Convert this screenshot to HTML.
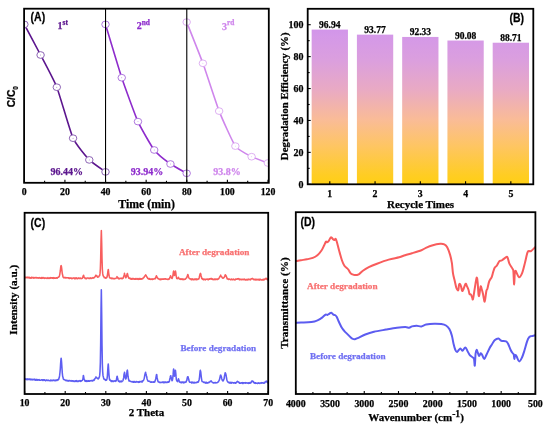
<!DOCTYPE html><html><head><meta charset="utf-8"><style>html,body{margin:0;padding:0;background:#fff;width:550px;height:427px;overflow:hidden}svg{display:block;will-change:transform}</style></head><body>
<svg width="550" height="427" viewBox="0 0 550 427">
<rect width="550" height="427" fill="#fff"/>
<defs><clipPath id="cA"><rect x="24.1" y="8.7" width="244.70000000000002" height="174.10000000000002"/></clipPath></defs>
<g clip-path="url(#cA)">
<path d="M24.35 24.4 C25.7 26.95 37.88 49.77 40.58 55 C43.29 60.23 54.11 80.27 56.81 87.2 C59.52 94.13 70.34 132.14 73.05 138.2 C75.75 144.26 86.57 157.09 89.28 159.9 C91.98 162.71 104.16 170.9 105.51 171.9" fill="none" stroke="#5c168e" stroke-width="1.6"/>
<ellipse cx="24.35" cy="24.4" rx="3.75" ry="3.35" fill="#fff" stroke="#7a4aa8" stroke-width="0.85"/>
<circle cx="24.35" cy="24.4" r="0.45" fill="#7a4aa8"/>
<ellipse cx="40.58" cy="55" rx="3.75" ry="3.35" fill="#fff" stroke="#7a4aa8" stroke-width="0.85"/>
<circle cx="40.58" cy="55" r="0.45" fill="#7a4aa8"/>
<ellipse cx="56.81" cy="87.2" rx="3.75" ry="3.35" fill="#fff" stroke="#7a4aa8" stroke-width="0.85"/>
<circle cx="56.81" cy="87.2" r="0.45" fill="#7a4aa8"/>
<ellipse cx="73.05" cy="138.2" rx="3.75" ry="3.35" fill="#fff" stroke="#7a4aa8" stroke-width="0.85"/>
<circle cx="73.05" cy="138.2" r="0.45" fill="#7a4aa8"/>
<ellipse cx="89.28" cy="159.9" rx="3.75" ry="3.35" fill="#fff" stroke="#7a4aa8" stroke-width="0.85"/>
<circle cx="89.28" cy="159.9" r="0.45" fill="#7a4aa8"/>
<ellipse cx="105.51" cy="171.9" rx="3.75" ry="3.35" fill="#fff" stroke="#7a4aa8" stroke-width="0.85"/>
<circle cx="105.51" cy="171.9" r="0.45" fill="#7a4aa8"/>
<path d="M105.51 24.4 C106.86 28.84 119.04 69.6 121.74 77.7 C124.45 85.8 135.27 115.57 137.97 121.6 C140.68 127.62 151.5 146.47 154.21 150 C156.91 153.53 167.73 162.06 170.44 164 C173.14 165.94 185.32 172.53 186.67 173.3" fill="none" stroke="#8e2ccc" stroke-width="1.6"/>
<ellipse cx="105.51" cy="24.4" rx="3.75" ry="3.35" fill="#fff" stroke="#a060d8" stroke-width="0.85"/>
<circle cx="105.51" cy="24.4" r="0.45" fill="#a060d8"/>
<ellipse cx="121.74" cy="77.7" rx="3.75" ry="3.35" fill="#fff" stroke="#a060d8" stroke-width="0.85"/>
<circle cx="121.74" cy="77.7" r="0.45" fill="#a060d8"/>
<ellipse cx="137.97" cy="121.6" rx="3.75" ry="3.35" fill="#fff" stroke="#a060d8" stroke-width="0.85"/>
<circle cx="137.97" cy="121.6" r="0.45" fill="#a060d8"/>
<ellipse cx="154.21" cy="150" rx="3.75" ry="3.35" fill="#fff" stroke="#a060d8" stroke-width="0.85"/>
<circle cx="154.21" cy="150" r="0.45" fill="#a060d8"/>
<ellipse cx="170.44" cy="164" rx="3.75" ry="3.35" fill="#fff" stroke="#a060d8" stroke-width="0.85"/>
<circle cx="170.44" cy="164" r="0.45" fill="#a060d8"/>
<ellipse cx="186.67" cy="173.3" rx="3.75" ry="3.35" fill="#fff" stroke="#a060d8" stroke-width="0.85"/>
<circle cx="186.67" cy="173.3" r="0.45" fill="#a060d8"/>
<path d="M186.67 22.1 C188.02 25.53 200.2 55.88 202.9 63.3 C205.61 70.72 216.43 104.2 219.13 111.1 C221.84 118 232.66 142.3 235.37 146.1 C238.07 149.9 248.89 155.29 251.6 156.7 C254.3 158.11 266.48 162.47 267.83 163" fill="none" stroke="#cf86ec" stroke-width="1.6"/>
<ellipse cx="186.67" cy="22.1" rx="3.75" ry="3.35" fill="#fff" stroke="#d8a2f0" stroke-width="0.85"/>
<circle cx="186.67" cy="22.1" r="0.45" fill="#d8a2f0"/>
<ellipse cx="202.9" cy="63.3" rx="3.75" ry="3.35" fill="#fff" stroke="#d8a2f0" stroke-width="0.85"/>
<circle cx="202.9" cy="63.3" r="0.45" fill="#d8a2f0"/>
<ellipse cx="219.13" cy="111.1" rx="3.75" ry="3.35" fill="#fff" stroke="#d8a2f0" stroke-width="0.85"/>
<circle cx="219.13" cy="111.1" r="0.45" fill="#d8a2f0"/>
<ellipse cx="235.37" cy="146.1" rx="3.75" ry="3.35" fill="#fff" stroke="#d8a2f0" stroke-width="0.85"/>
<circle cx="235.37" cy="146.1" r="0.45" fill="#d8a2f0"/>
<ellipse cx="251.6" cy="156.7" rx="3.75" ry="3.35" fill="#fff" stroke="#d8a2f0" stroke-width="0.85"/>
<circle cx="251.6" cy="156.7" r="0.45" fill="#d8a2f0"/>
<ellipse cx="267.83" cy="163" rx="3.75" ry="3.35" fill="#fff" stroke="#d8a2f0" stroke-width="0.85"/>
<circle cx="267.83" cy="163" r="0.45" fill="#d8a2f0"/>
</g>
<line x1="105.54" y1="8.7" x2="105.54" y2="182.8" stroke="#000" stroke-width="1.1"/>
<line x1="186.78" y1="8.7" x2="186.78" y2="182.8" stroke="#000" stroke-width="1.1"/>
<line x1="24.3" y1="182.8" x2="24.3" y2="179.8" stroke="#000" stroke-width="1.1"/>
<line x1="44.61" y1="182.8" x2="44.61" y2="180.8" stroke="#000" stroke-width="1.1"/>
<line x1="64.92" y1="182.8" x2="64.92" y2="179.8" stroke="#000" stroke-width="1.1"/>
<line x1="85.23" y1="182.8" x2="85.23" y2="180.8" stroke="#000" stroke-width="1.1"/>
<line x1="105.54" y1="182.8" x2="105.54" y2="179.8" stroke="#000" stroke-width="1.1"/>
<line x1="125.85" y1="182.8" x2="125.85" y2="180.8" stroke="#000" stroke-width="1.1"/>
<line x1="146.16" y1="182.8" x2="146.16" y2="179.8" stroke="#000" stroke-width="1.1"/>
<line x1="166.47" y1="182.8" x2="166.47" y2="180.8" stroke="#000" stroke-width="1.1"/>
<line x1="186.78" y1="182.8" x2="186.78" y2="179.8" stroke="#000" stroke-width="1.1"/>
<line x1="207.09" y1="182.8" x2="207.09" y2="180.8" stroke="#000" stroke-width="1.1"/>
<line x1="227.4" y1="182.8" x2="227.4" y2="179.8" stroke="#000" stroke-width="1.1"/>
<line x1="247.71" y1="182.8" x2="247.71" y2="180.8" stroke="#000" stroke-width="1.1"/>
<line x1="268.02" y1="182.8" x2="268.02" y2="179.8" stroke="#000" stroke-width="1.1"/>
<rect x="24.1" y="8.7" width="244.7" height="174.1" fill="none" stroke="#000" stroke-width="1.8"/>
<text x="24.3" y="195.2" font-family='"Liberation Serif", serif' font-size="9.8" font-weight="bold" text-anchor="middle" fill="#000" stroke="#000" stroke-width="0.25" >0</text>
<text x="64.92" y="195.2" font-family='"Liberation Serif", serif' font-size="9.8" font-weight="bold" text-anchor="middle" fill="#000" stroke="#000" stroke-width="0.25" >20</text>
<text x="105.54" y="195.2" font-family='"Liberation Serif", serif' font-size="9.8" font-weight="bold" text-anchor="middle" fill="#000" stroke="#000" stroke-width="0.25" >40</text>
<text x="146.16" y="195.2" font-family='"Liberation Serif", serif' font-size="9.8" font-weight="bold" text-anchor="middle" fill="#000" stroke="#000" stroke-width="0.25" >60</text>
<text x="186.78" y="195.2" font-family='"Liberation Serif", serif' font-size="9.8" font-weight="bold" text-anchor="middle" fill="#000" stroke="#000" stroke-width="0.25" >80</text>
<text x="227.4" y="195.2" font-family='"Liberation Serif", serif' font-size="9.8" font-weight="bold" text-anchor="middle" fill="#000" stroke="#000" stroke-width="0.25" >100</text>
<text x="268.02" y="195.2" font-family='"Liberation Serif", serif' font-size="9.8" font-weight="bold" text-anchor="middle" fill="#000" stroke="#000" stroke-width="0.25" >120</text>
<text x="146.6" y="208" font-family='"Liberation Serif", serif' font-size="11.8" font-weight="bold" text-anchor="middle" fill="#000" stroke="#000" stroke-width="0.25" >Time (min)</text>
<text transform="translate(15.0 107.3) rotate(-90) scale(0.9 1)" font-family='"Liberation Sans", sans-serif' font-size="11.4" font-weight="bold" fill="#000" stroke="#000" stroke-width="0.25">C/C<tspan font-size="7" dy="3.3">0</tspan></text>
<text transform="translate(30.6 21) scale(0.86 1)" font-family='"Liberation Sans", sans-serif' font-size="12.2" font-weight="bold" fill="#000" stroke="#000" stroke-width="0.25">(A)</text>
<text x="66.7" y="175.3" font-family='"Liberation Serif", serif' font-size="10" font-weight="bold" text-anchor="middle" fill="#5c168e" stroke="#5c168e" stroke-width="0.25" >96.44%</text>
<text x="146.9" y="175.3" font-family='"Liberation Serif", serif' font-size="10" font-weight="bold" text-anchor="middle" fill="#8e2ccc" stroke="#8e2ccc" stroke-width="0.25" >93.94%</text>
<text x="227" y="175.3" font-family='"Liberation Serif", serif' font-size="10" font-weight="bold" text-anchor="middle" fill="#cf86ec" stroke="#cf86ec" stroke-width="0.25" >93.8%</text>
<text x="57.6" y="29.4" font-family='"Liberation Serif", serif' font-size="10" font-weight="bold" fill="#5c168e" stroke="#5c168e" stroke-width="0.25">1<tspan font-size="7.4" dy="-4.3">st</tspan></text>
<text x="136.7" y="29.4" font-family='"Liberation Serif", serif' font-size="10" font-weight="bold" fill="#8e2ccc" stroke="#8e2ccc" stroke-width="0.25">2<tspan font-size="7.4" dy="-4.3">nd</tspan></text>
<text x="222.0" y="29.5" font-family='"Liberation Serif", serif' font-size="10" font-weight="bold" fill="#cf86ec" stroke="#cf86ec" stroke-width="0.25">3<tspan font-size="7.4" dy="-4.3">rd</tspan></text>
<defs><linearGradient id="gB" gradientUnits="userSpaceOnUse" x1="0" y1="24.7" x2="0" y2="184.3">
<stop offset="0.0" stop-color="#d092ea"/>
<stop offset="0.068" stop-color="#d498e8"/>
<stop offset="0.224" stop-color="#db9fde"/>
<stop offset="0.411" stop-color="#e9aac3"/>
<stop offset="0.599" stop-color="#fabc96"/>
<stop offset="0.755" stop-color="#fec564"/>
<stop offset="0.943" stop-color="#ffcd23"/>
<stop offset="1.0" stop-color="#ffcf14"/>
</linearGradient></defs>
<rect x="311.65" y="29.58" width="36.3" height="154.72" fill="url(#gB)"/>
<text x="329.8" y="27.68" font-family='"Liberation Serif", serif' font-size="9.5" font-weight="bold" text-anchor="middle" fill="#000" stroke="#000" stroke-width="0.25" >96.94</text>
<line x1="329.8" y1="184.3" x2="329.8" y2="181.3" stroke="#000" stroke-width="1.1"/>
<rect x="356.91" y="34.64" width="36.3" height="149.66" fill="url(#gB)"/>
<text x="375.06" y="32.74" font-family='"Liberation Serif", serif' font-size="9.5" font-weight="bold" text-anchor="middle" fill="#000" stroke="#000" stroke-width="0.25" >93.77</text>
<line x1="375.06" y1="184.3" x2="375.06" y2="181.3" stroke="#000" stroke-width="1.1"/>
<rect x="402.17" y="36.94" width="36.3" height="147.36" fill="url(#gB)"/>
<text x="420.32" y="35.04" font-family='"Liberation Serif", serif' font-size="9.5" font-weight="bold" text-anchor="middle" fill="#000" stroke="#000" stroke-width="0.25" >92.33</text>
<line x1="420.32" y1="184.3" x2="420.32" y2="181.3" stroke="#000" stroke-width="1.1"/>
<rect x="447.43" y="40.53" width="36.3" height="143.77" fill="url(#gB)"/>
<text x="465.58" y="38.63" font-family='"Liberation Serif", serif' font-size="9.5" font-weight="bold" text-anchor="middle" fill="#000" stroke="#000" stroke-width="0.25" >90.08</text>
<line x1="465.58" y1="184.3" x2="465.58" y2="181.3" stroke="#000" stroke-width="1.1"/>
<rect x="492.69" y="42.72" width="36.3" height="141.58" fill="url(#gB)"/>
<text x="510.84" y="40.82" font-family='"Liberation Serif", serif' font-size="9.5" font-weight="bold" text-anchor="middle" fill="#000" stroke="#000" stroke-width="0.25" >88.71</text>
<line x1="510.84" y1="184.3" x2="510.84" y2="181.3" stroke="#000" stroke-width="1.1"/>
<line x1="307.7" y1="184.3" x2="310.7" y2="184.3" stroke="#000" stroke-width="1.1"/>
<text x="303.5" y="187.7" font-family='"Liberation Serif", serif' font-size="10" font-weight="bold" text-anchor="end" fill="#000" stroke="#000" stroke-width="0.25" >0</text>
<line x1="307.7" y1="168.34" x2="309.7" y2="168.34" stroke="#000" stroke-width="1.1"/>
<line x1="307.7" y1="152.38" x2="310.7" y2="152.38" stroke="#000" stroke-width="1.1"/>
<text x="303.5" y="155.78" font-family='"Liberation Serif", serif' font-size="10" font-weight="bold" text-anchor="end" fill="#000" stroke="#000" stroke-width="0.25" >20</text>
<line x1="307.7" y1="136.42" x2="309.7" y2="136.42" stroke="#000" stroke-width="1.1"/>
<line x1="307.7" y1="120.46" x2="310.7" y2="120.46" stroke="#000" stroke-width="1.1"/>
<text x="303.5" y="123.86" font-family='"Liberation Serif", serif' font-size="10" font-weight="bold" text-anchor="end" fill="#000" stroke="#000" stroke-width="0.25" >40</text>
<line x1="307.7" y1="104.5" x2="309.7" y2="104.5" stroke="#000" stroke-width="1.1"/>
<line x1="307.7" y1="88.54" x2="310.7" y2="88.54" stroke="#000" stroke-width="1.1"/>
<text x="303.5" y="91.94" font-family='"Liberation Serif", serif' font-size="10" font-weight="bold" text-anchor="end" fill="#000" stroke="#000" stroke-width="0.25" >60</text>
<line x1="307.7" y1="72.58" x2="309.7" y2="72.58" stroke="#000" stroke-width="1.1"/>
<line x1="307.7" y1="56.62" x2="310.7" y2="56.62" stroke="#000" stroke-width="1.1"/>
<text x="303.5" y="60.02" font-family='"Liberation Serif", serif' font-size="10" font-weight="bold" text-anchor="end" fill="#000" stroke="#000" stroke-width="0.25" >80</text>
<line x1="307.7" y1="40.66" x2="309.7" y2="40.66" stroke="#000" stroke-width="1.1"/>
<line x1="307.7" y1="24.7" x2="310.7" y2="24.7" stroke="#000" stroke-width="1.1"/>
<text x="303.5" y="28.1" font-family='"Liberation Serif", serif' font-size="10" font-weight="bold" text-anchor="end" fill="#000" stroke="#000" stroke-width="0.25" >100</text>
<rect x="307.7" y="8.8" width="225.6" height="175.5" fill="none" stroke="#000" stroke-width="1.8"/>
<text x="329.8" y="196.6" font-family='"Liberation Serif", serif' font-size="9.8" font-weight="bold" text-anchor="middle" fill="#000" stroke="#000" stroke-width="0.25" >1</text>
<text x="375.06" y="196.6" font-family='"Liberation Serif", serif' font-size="9.8" font-weight="bold" text-anchor="middle" fill="#000" stroke="#000" stroke-width="0.25" >2</text>
<text x="420.32" y="196.6" font-family='"Liberation Serif", serif' font-size="9.8" font-weight="bold" text-anchor="middle" fill="#000" stroke="#000" stroke-width="0.25" >3</text>
<text x="465.58" y="196.6" font-family='"Liberation Serif", serif' font-size="9.8" font-weight="bold" text-anchor="middle" fill="#000" stroke="#000" stroke-width="0.25" >4</text>
<text x="510.84" y="196.6" font-family='"Liberation Serif", serif' font-size="9.8" font-weight="bold" text-anchor="middle" fill="#000" stroke="#000" stroke-width="0.25" >5</text>
<text x="420.6" y="208" font-family='"Liberation Serif", serif' font-size="11" font-weight="bold" text-anchor="middle" fill="#000" stroke="#000" stroke-width="0.25" >Recycle Times</text>
<text transform="translate(287.6 96.3) rotate(-90)" font-family='"Liberation Serif", serif' font-size="10.85" font-weight="bold" text-anchor="middle" fill="#000" stroke="#000" stroke-width="0.25">Degradation Efficiency (%)</text>
<text transform="translate(509.5 22) scale(0.86 1)" font-family='"Liberation Sans", sans-serif' font-size="12.2" font-weight="bold" fill="#000" stroke="#000" stroke-width="0.25">(B)</text>
<path d="M24.6 277.43 L24.93 277.28 L25.27 277.74 L25.6 277.23 L25.93 277.65 L26.27 277.5 L26.6 277.23 L26.94 277.65 L27.27 277.23 L27.6 277.59 L27.94 277.27 L28.27 277.3 L28.6 277.6 L28.94 277.97 L29.27 277.35 L29.61 277.44 L29.94 277.81 L30.27 278.11 L30.61 277.78 L30.94 277.63 L31.27 278.15 L31.61 277.32 L31.94 278.06 L32.28 277.56 L32.61 277.43 L32.94 277.41 L33.28 277.59 L33.61 278.06 L33.94 277.49 L34.28 277.86 L34.61 277.92 L34.94 277.68 L35.28 277.85 L35.61 277.42 L35.95 277.42 L36.28 277.56 L36.61 277.99 L36.95 277.77 L37.28 277.68 L37.61 277.93 L37.95 277.81 L38.28 277.68 L38.62 278.13 L38.95 278.06 L39.28 277.65 L39.62 277.96 L39.95 277.92 L40.28 278.24 L40.62 278.11 L40.95 277.72 L41.28 278.35 L41.62 277.58 L41.95 277.86 L42.29 278.17 L42.62 277.63 L42.95 277.94 L43.29 277.54 L43.62 278.11 L43.95 278.21 L44.29 278.04 L44.62 278.32 L44.96 277.82 L45.29 278.17 L45.62 278.08 L45.96 278.08 L46.29 277.97 L46.62 278.32 L46.96 278.42 L47.29 278 L47.63 278.18 L47.96 277.64 L48.29 278.22 L48.63 278.18 L48.96 278.49 L49.29 278.34 L49.63 277.86 L49.96 277.95 L50.29 278.21 L50.63 277.62 L50.96 278.02 L51.3 277.76 L51.63 277.71 L51.96 277.66 L52.3 278.29 L52.63 277.71 L52.96 277.82 L53.3 277.94 L53.63 278.37 L53.97 277.65 L54.3 277.97 L54.63 278.05 L54.97 278.34 L55.3 278.27 L55.63 278.29 L55.97 277.74 L56.3 277.84 L56.64 277.75 L56.97 278.18 L57.3 278.19 L57.64 277.39 L57.97 277.31 L58.3 277.22 L58.64 277.02 L58.97 276.92 L59.3 276.43 L59.64 275.1 L59.97 273.14 L60.31 270.99 L60.64 267.89 L60.97 265.67 L61.14 265.65 L61.31 265.78 L61.64 268.04 L61.97 271.18 L62.31 273.77 L62.64 274.95 L62.98 276.75 L63.31 277.24 L63.64 277.66 L63.98 277.8 L64.31 277.58 L64.64 277.69 L64.98 277.51 L65.31 278.05 L65.64 277.59 L65.98 277.64 L66.31 277.8 L66.65 277.79 L66.98 277.98 L67.31 277.74 L67.65 277.71 L67.98 277.87 L68.31 277.84 L68.65 278.09 L68.98 277.8 L69.32 278.57 L69.65 278.35 L69.98 277.94 L70.32 278.04 L70.65 278.14 L70.98 278.16 L71.32 277.95 L71.65 278.61 L71.99 278.75 L72.32 278.28 L72.65 278.3 L72.99 277.95 L73.32 277.97 L73.65 278.19 L73.99 278.12 L74.32 278.63 L74.65 278.02 L74.99 277.9 L75.32 278.73 L75.66 278.35 L75.99 278.01 L76.32 278.36 L76.66 277.89 L76.99 278.34 L77.32 278.75 L77.66 278.64 L77.99 278.49 L78.33 278.09 L78.66 278.18 L78.99 278 L79.33 278.54 L79.66 278.32 L79.99 278.53 L80.33 278.12 L80.66 278.01 L81 278.52 L81.33 278.65 L81.66 278.5 L82 278.39 L82.33 278.27 L82.66 277.84 L83 276.53 L83.33 275.68 L83.47 275.36 L83.66 275.38 L84 276.52 L84.33 277.49 L84.67 277.78 L85 278.27 L85.33 278.56 L85.67 278.13 L86 278.59 L86.33 278.64 L86.67 278.62 L87 278.09 L87.34 277.96 L87.67 277.96 L88 277.93 L88.34 277.93 L88.67 278.3 L89 278.55 L89.34 278.48 L89.67 278.15 L90 278.3 L90.34 278.42 L90.67 277.76 L91.01 278.26 L91.34 278.47 L91.67 278.33 L92.01 278.28 L92.34 278 L92.67 277.69 L93.01 278.18 L93.34 277.7 L93.68 278.01 L94.01 278 L94.34 277.25 L94.68 276.93 L95.01 277.01 L95.34 276.34 L95.68 275.42 L96.01 275.16 L96.06 275.17 L96.35 275.93 L96.68 276.16 L97.01 275.94 L97.35 276.89 L97.68 277.26 L98.01 277.08 L98.35 276.79 L98.68 276.83 L99.01 276.16 L99.35 275.56 L99.68 275.54 L100.02 273.4 L100.35 268.69 L100.68 258.47 L101.02 240.8 L101.33 230.65 L101.35 230.64 L101.68 242.44 L102.02 259.31 L102.35 269.22 L102.69 273.4 L103.02 275.44 L103.35 276.01 L103.69 276.68 L104.02 276.77 L104.35 277.71 L104.69 277.37 L105.02 277.58 L105.36 277.76 L105.69 278.09 L106.02 277.64 L106.36 278.02 L106.69 277.46 L107.02 277.01 L107.36 275.82 L107.69 273.08 L108.02 270.59 L108.24 269.55 L108.36 269.69 L108.69 273.06 L109.03 275.13 L109.36 276.9 L109.69 277.8 L110.03 277.95 L110.36 277.91 L110.69 278.19 L111.03 278.3 L111.36 278.56 L111.7 277.99 L112.03 278.43 L112.36 278.18 L112.7 278.23 L113.03 278.69 L113.36 278.47 L113.7 278.53 L114.03 278.72 L114.36 278.86 L114.7 278.43 L115.03 278.57 L115.37 278.45 L115.7 278.4 L116.03 278.42 L116.37 277.88 L116.7 277.35 L117.03 276.68 L117.17 277.01 L117.37 276.97 L117.7 277.82 L118.04 278.44 L118.37 278.12 L118.7 278.52 L119.04 278.92 L119.37 278.86 L119.7 278.24 L120.04 278.24 L120.37 278.53 L120.71 278.19 L121.04 278.33 L121.37 278.16 L121.71 278.67 L122.04 278.73 L122.37 278.75 L122.71 277.95 L123.04 278.19 L123.37 277.58 L123.71 276.09 L124.04 275.29 L124.38 274.16 L124.48 273.39 L124.71 274.46 L125.04 275.35 L125.38 276.66 L125.71 277.75 L126.04 277.65 L126.38 276.49 L126.71 275.58 L127.05 274.25 L127.32 273.55 L127.38 273.46 L127.71 274.67 L128.05 276.54 L128.38 277.01 L128.71 278.1 L129.05 278.3 L129.38 278.08 L129.72 278.45 L130.05 278.78 L130.38 278.73 L130.72 278.36 L131.05 279.22 L131.38 279.06 L131.72 279.25 L132.05 278.48 L132.38 278.64 L132.72 278.45 L133.05 279.12 L133.39 278.68 L133.72 278.56 L134.05 278.83 L134.39 279.28 L134.72 279.2 L135.05 278.7 L135.39 278.61 L135.72 279.3 L136.06 278.99 L136.39 279.11 L136.72 278.57 L137.06 278.54 L137.39 279.11 L137.72 278.88 L138.06 278.56 L138.39 279.34 L138.72 279.06 L139.06 279.21 L139.39 278.56 L139.73 279.25 L140.06 278.53 L140.39 279.24 L140.73 278.86 L141.06 278.74 L141.39 278.91 L141.73 279.22 L142.06 278.59 L142.4 278.41 L142.73 278.69 L143.06 278.31 L143.4 277.99 L143.73 277.74 L144.06 277.21 L144.4 276.77 L144.73 276.19 L145.07 275.49 L145.4 275.42 L145.59 274.92 L145.73 275.16 L146.07 275.3 L146.4 276.14 L146.73 276.55 L147.07 277.35 L147.4 277.6 L147.73 278.57 L148.07 278.62 L148.4 278.44 L148.74 278.79 L149.07 279.26 L149.4 278.57 L149.74 279.24 L150.07 278.92 L150.4 279 L150.74 279.32 L151.07 278.94 L151.41 279.06 L151.74 279.23 L152.07 279.5 L152.41 278.93 L152.74 279.37 L153.07 279.25 L153.41 279.18 L153.74 278.96 L154.08 278.89 L154.41 278.58 L154.74 278.58 L155.08 278.38 L155.41 278.66 L155.74 277.62 L156.08 276.63 L156.41 275.74 L156.55 276.32 L156.74 276.55 L157.08 277.27 L157.41 277.79 L157.75 278.32 L158.08 278.66 L158.41 278.95 L158.75 278.75 L159.08 279.06 L159.41 278.93 L159.75 279.58 L160.08 279.61 L160.42 279.24 L160.75 278.98 L161.08 279.64 L161.42 279.06 L161.75 279.11 L162.08 278.8 L162.42 279.15 L162.75 279.24 L163.08 279.27 L163.42 279 L163.75 279.27 L164.09 278.82 L164.42 279.06 L164.75 278.9 L165.09 279.18 L165.42 278.86 L165.75 278.84 L166.09 279.09 L166.42 279.01 L166.76 279.32 L167.09 279.25 L167.42 279.43 L167.76 279.32 L168.09 279.34 L168.42 279.43 L168.76 278.9 L169.09 278.68 L169.43 278.95 L169.76 277.59 L170.09 277.23 L170.43 276.36 L170.56 275.71 L170.76 276.6 L171.09 277.42 L171.43 277.9 L171.76 278.36 L172.09 278.43 L172.43 277.38 L172.76 276.49 L173.1 274.14 L173.43 271.72 L173.6 271.1 L173.76 271.5 L174.1 273.58 L174.43 275.41 L174.76 274.82 L175.1 272.84 L175.43 271.09 L175.43 270.91 L175.77 272.76 L176.1 275.58 L176.43 277.06 L176.77 278.52 L177.1 278.57 L177.43 278.68 L177.77 278.48 L178.1 278.11 L178.44 277.62 L178.47 277.18 L178.77 278.19 L179.1 278.7 L179.44 278.86 L179.77 279.08 L180.1 279.29 L180.44 278.8 L180.77 279.43 L181.1 279.01 L181.44 278.87 L181.77 279.05 L182.11 279.47 L182.44 279 L182.77 279.48 L183.11 279.69 L183.44 279.25 L183.77 279.13 L184.11 279.2 L184.44 279.36 L184.78 279.4 L185.11 279.21 L185.44 279.15 L185.78 278.5 L186.11 278.31 L186.44 277.97 L186.78 277.7 L187.11 276.33 L187.44 275.53 L187.78 274.47 L187.81 274.51 L188.11 275.09 L188.45 276.45 L188.78 277.49 L189.11 278.24 L189.45 278.39 L189.78 278.88 L190.11 278.99 L190.45 279.09 L190.78 278.84 L191.12 279.58 L191.45 278.98 L191.78 279.71 L192.12 279.69 L192.45 278.88 L192.78 279.28 L193.12 279.62 L193.45 279.76 L193.79 279.29 L194.12 279.13 L194.45 279.08 L194.79 279.74 L195.12 279.07 L195.45 279.4 L195.79 278.99 L196.12 279.32 L196.45 279.69 L196.79 278.93 L197.12 279.52 L197.46 279.19 L197.79 279.47 L198.12 279.21 L198.46 278.62 L198.79 278.92 L199.12 277.96 L199.46 276.54 L199.79 275.06 L200.13 273.99 L200.4 273.41 L200.46 273.31 L200.79 274.19 L201.13 275.95 L201.46 277.23 L201.79 278.55 L202.13 278.26 L202.46 279.18 L202.8 279.39 L203.13 278.83 L203.46 279.61 L203.8 279.46 L204.13 279.66 L204.46 279.14 L204.8 279.23 L205.13 279.26 L205.46 279.82 L205.8 279.46 L206.13 279.26 L206.47 279.33 L206.8 279.19 L207.13 278.99 L207.47 279.04 L207.8 279.69 L208.13 279.19 L208.47 279.76 L208.8 279.13 L209.14 279.1 L209.47 279.24 L209.8 278.81 L210.14 278.74 L210.47 278.95 L210.8 278.63 L210.95 278.53 L211.14 278.42 L211.47 278.95 L211.8 279.28 L212.14 279.15 L212.47 279.44 L212.81 278.91 L213.14 279.56 L213.47 279.32 L213.81 279.6 L214.14 279.51 L214.47 279.19 L214.81 278.97 L215.14 279.75 L215.48 279.03 L215.81 279.32 L216.14 279.19 L216.48 279.13 L216.81 279.5 L217.14 279.68 L217.48 278.99 L217.81 279.28 L218.15 278.86 L218.48 278.92 L218.81 278.51 L219.15 277.91 L219.48 277.34 L219.81 276.66 L220.15 276.5 L220.48 275.53 L220.7 275.14 L220.81 275.79 L221.15 276.32 L221.48 276.55 L221.82 276.98 L222.15 277.58 L222.48 277.86 L222.82 278.27 L223.15 278.05 L223.48 278.01 L223.82 277.66 L224.15 277.36 L224.49 276.88 L224.82 275.92 L225.15 274.98 L225.37 274.85 L225.49 275 L225.82 275.41 L226.15 276.24 L226.49 276.84 L226.82 277.73 L227.16 278.85 L227.49 278.43 L227.82 278.98 L228.16 279.23 L228.49 279.53 L228.82 279.01 L229.16 279.1 L229.49 279.12 L229.82 279.28 L230.16 279.35 L230.49 279.82 L230.83 279.74 L231.16 279.78 L231.49 279.02 L231.83 279.04 L232.16 279.66 L232.49 279.83 L232.83 279.46 L233.16 279.56 L233.5 279.04 L233.83 279.39 L234.16 279.87 L234.5 279.77 L234.83 279.79 L235.16 279.88 L235.5 279.21 L235.83 279.03 L236.16 279 L236.5 279.2 L236.83 279.17 L237.17 279.19 L237.5 278.82 L237.75 278.7 L237.83 278.81 L238.17 278.66 L238.5 278.96 L238.83 278.7 L239.17 279.53 L239.5 279.14 L239.84 279.82 L240.17 279.62 L240.5 279.33 L240.84 279.19 L241.17 279.32 L241.5 279.67 L241.84 279.74 L242.17 279.21 L242.51 279.18 L242.84 279.59 L243.17 279.65 L243.51 279.48 L243.84 279.33 L244.17 279.68 L244.51 279.15 L244.84 279.41 L245.17 279.55 L245.51 280 L245.84 279.72 L246.18 279.94 L246.51 279.57 L246.84 279.35 L247.18 279.36 L247.51 280 L247.84 279.77 L248.18 279.41 L248.51 279.15 L248.85 279.57 L249.18 279.72 L249.51 279.48 L249.85 279.32 L250.18 279.66 L250.51 279.83 L250.85 279.11 L251.18 278.8 L251.52 278.89 L251.85 278.75 L252.18 278.83 L252.37 278.36 L252.52 278.92 L252.85 279.02 L253.18 279.02 L253.52 278.95 L253.85 279.78 L254.18 279.29 L254.52 279.8 L254.85 279.31 L255.19 279.32 L255.52 279.82 L255.85 279.41 L256.19 280.01 L256.52 279.61 L256.85 279.34 L257.19 279.37 L257.52 279.55 L257.86 279.78 L258.19 280.04 L258.52 279.32 L258.86 279.54 L259.19 279.38 L259.52 280.07 L259.86 279.32 L260.19 279.24 L260.52 279.24 L260.86 279.54 L261.19 280 L261.53 279.98 L261.86 279.84 L262.19 280.08 L262.53 280.01 L262.86 279.47 L263.19 279.33 L263.53 279.98 L263.86 279.79 L264.2 279.1 L264.53 279.59 L264.86 279.22 L265.2 279.04 L265.53 278.8 L265.86 278.46 L266.17 278.24 L266.2 278.49 L266.53 278.65 L266.87 279.4 L267.2 278.86 L267.53 279.78 L267.87 279.21 L268.2 279.42" fill="none" stroke="#f85e5e" stroke-width="1.55" stroke-linejoin="round"/>
<path d="M24.6 379.37 L24.93 379.39 L25.27 379.06 L25.6 378.74 L25.93 379.14 L26.27 379.06 L26.6 379.58 L26.94 378.94 L27.27 379.11 L27.6 379.61 L27.94 378.85 L28.27 379.21 L28.6 379.59 L28.94 379.57 L29.27 378.94 L29.61 378.95 L29.94 378.99 L30.27 379.78 L30.61 379.21 L30.94 379.67 L31.27 379.82 L31.61 379.34 L31.94 379.3 L32.28 379.93 L32.61 379.64 L32.94 379.34 L33.28 379.77 L33.61 379.43 L33.94 379.41 L34.28 379.19 L34.61 379.88 L34.94 380.04 L35.28 379.81 L35.61 380.11 L35.95 379.3 L36.28 379.5 L36.61 379.74 L36.95 380.19 L37.28 380.21 L37.61 379.72 L37.95 379.61 L38.28 379.79 L38.62 379.87 L38.95 380.28 L39.28 379.62 L39.62 380.2 L39.95 380.16 L40.28 380.26 L40.62 380.23 L40.95 380.1 L41.28 379.86 L41.62 379.88 L41.95 379.93 L42.29 380.33 L42.62 379.71 L42.95 379.84 L43.29 380.36 L43.62 379.92 L43.95 379.77 L44.29 379.76 L44.62 380.25 L44.96 380.06 L45.29 380.66 L45.62 380.59 L45.96 380.71 L46.29 380.07 L46.62 379.93 L46.96 379.95 L47.29 380.33 L47.63 380.54 L47.96 380.32 L48.29 380.14 L48.63 380.32 L48.96 380.52 L49.29 380.57 L49.63 380.64 L49.96 380.74 L50.29 380.58 L50.63 380.09 L50.96 380.74 L51.3 380.25 L51.63 380.5 L51.96 380.32 L52.3 380.65 L52.63 380.17 L52.96 380.21 L53.3 380.2 L53.63 380.11 L53.97 380.76 L54.3 380.47 L54.63 380.23 L54.97 380.27 L55.3 380.79 L55.63 380.32 L55.97 380.03 L56.3 380.51 L56.64 380.31 L56.97 380.54 L57.3 379.64 L57.64 379.85 L57.97 379.99 L58.3 379.78 L58.64 379.49 L58.97 378.14 L59.3 377.36 L59.64 375.41 L59.97 372.49 L60.31 368.82 L60.64 363.2 L60.97 359.35 L61.14 358.21 L61.31 359.3 L61.64 363.1 L61.97 368.22 L62.31 373.09 L62.64 376.24 L62.98 377.29 L63.31 378.76 L63.64 379.37 L63.98 379.37 L64.31 379.76 L64.64 379.74 L64.98 379.94 L65.31 380.1 L65.64 380.51 L65.98 380.63 L66.31 380.29 L66.65 380.18 L66.98 380.51 L67.31 380.87 L67.65 380.46 L67.98 380.61 L68.31 380.54 L68.65 381.1 L68.98 380.9 L69.32 380.49 L69.65 380.55 L69.98 380.83 L70.32 380.99 L70.65 381.09 L70.98 380.61 L71.32 380.69 L71.65 381.19 L71.99 380.94 L72.32 380.84 L72.65 380.88 L72.99 381.47 L73.32 380.91 L73.65 381.14 L73.99 380.95 L74.32 381.01 L74.65 381.41 L74.99 381.53 L75.32 380.96 L75.66 380.82 L75.99 381.29 L76.32 380.82 L76.66 380.64 L76.99 381.45 L77.32 381.02 L77.66 381.37 L77.99 380.99 L78.33 381.42 L78.66 381.03 L78.99 380.76 L79.33 380.62 L79.66 381.09 L79.99 381.16 L80.33 381.39 L80.66 380.63 L81 381.08 L81.33 380.81 L81.66 380.86 L82 380.42 L82.33 380.29 L82.66 379.79 L83 378.5 L83.33 375.58 L83.47 375.58 L83.66 376.5 L84 378.88 L84.33 379.66 L84.67 380.19 L85 381.14 L85.33 381.27 L85.67 380.88 L86 380.53 L86.33 381.34 L86.67 380.87 L87 381.34 L87.34 381.09 L87.67 381.27 L88 380.67 L88.34 381.23 L88.67 380.72 L89 380.87 L89.34 381.26 L89.67 381.23 L90 380.64 L90.34 380.65 L90.67 380.8 L91.01 380.88 L91.34 380.74 L91.67 380.47 L92.01 380.54 L92.34 380.93 L92.67 381.02 L93.01 380.18 L93.34 380.53 L93.68 380.55 L94.01 379.67 L94.34 380.05 L94.68 378.94 L95.01 378.78 L95.34 378.08 L95.68 377.54 L96.01 376.92 L96.06 377.01 L96.35 377.25 L96.68 377.51 L97.01 378.23 L97.35 378.46 L97.68 378.73 L98.01 378.44 L98.35 378.86 L98.68 378.42 L99.01 377.6 L99.35 377.09 L99.68 375.42 L100.02 371.61 L100.35 362.62 L100.68 342.81 L101.02 309.82 L101.33 289.84 L101.35 290.18 L101.68 313.28 L102.02 345.5 L102.35 364.28 L102.69 371.86 L103.02 375.66 L103.35 376.8 L103.69 378.38 L104.02 379.07 L104.35 379.28 L104.69 379.18 L105.02 379.79 L105.36 379.8 L105.69 380.36 L106.02 379.6 L106.36 380.09 L106.69 379.84 L107.02 378.64 L107.36 376.35 L107.69 371.2 L108.02 366.17 L108.24 364.11 L108.36 365.13 L108.69 370.4 L109.03 374.98 L109.36 378.54 L109.69 380.01 L110.03 379.83 L110.36 380.4 L110.69 380.97 L111.03 380.58 L111.36 381.35 L111.7 380.87 L112.03 381.42 L112.36 380.87 L112.7 381.23 L113.03 381.63 L113.36 381.02 L113.7 381.08 L114.03 381.3 L114.36 381.13 L114.7 380.86 L115.03 380.96 L115.37 380.87 L115.7 381.42 L116.03 380.83 L116.37 380.18 L116.7 378.02 L117.03 377.01 L117.17 376.2 L117.37 377.02 L117.7 378.81 L118.04 379.96 L118.37 381.16 L118.7 381.19 L119.04 381.35 L119.37 381.69 L119.7 381.04 L120.04 381.86 L120.37 381.54 L120.71 381.32 L121.04 381.66 L121.37 381.15 L121.71 381.74 L122.04 381.28 L122.37 380.95 L122.71 381.07 L123.04 380.29 L123.37 379.04 L123.71 377.7 L124.04 374.41 L124.38 372.92 L124.48 372.23 L124.71 373.3 L125.04 376.08 L125.38 377.87 L125.71 379 L126.04 378.56 L126.38 376.9 L126.71 374.23 L127.05 371.06 L127.32 370.22 L127.38 370.14 L127.71 372.71 L128.05 376.51 L128.38 378.33 L128.71 379.82 L129.05 380.9 L129.38 380.68 L129.72 380.86 L130.05 381.32 L130.38 381.19 L130.72 381.49 L131.05 381.43 L131.38 381.8 L131.72 381.84 L132.05 381.53 L132.38 381.93 L132.72 381.82 L133.05 381.53 L133.39 382.27 L133.72 381.66 L134.05 381.59 L134.39 381.55 L134.72 382.05 L135.05 382.27 L135.39 382.19 L135.72 381.86 L136.06 381.74 L136.39 381.51 L136.72 382.08 L137.06 382.01 L137.39 381.82 L137.72 382.08 L138.06 381.89 L138.39 382.33 L138.72 382.14 L139.06 381.69 L139.39 382.27 L139.73 381.48 L140.06 381.9 L140.39 381.76 L140.73 381.57 L141.06 381.37 L141.39 381.96 L141.73 381.2 L142.06 381.59 L142.4 381.81 L142.73 380.9 L143.06 380.64 L143.4 380.54 L143.73 379.73 L144.06 378.82 L144.4 377.61 L144.73 375.4 L145.07 373.88 L145.4 372.73 L145.59 372.31 L145.73 373.19 L146.07 374.13 L146.4 375.68 L146.73 376.71 L147.07 378.88 L147.4 379.87 L147.73 380.38 L148.07 381.14 L148.4 381.21 L148.74 381.22 L149.07 381.26 L149.4 381.48 L149.74 381.38 L150.07 381.71 L150.4 382.13 L150.74 382.12 L151.07 382.29 L151.41 382.19 L151.74 381.8 L152.07 382.07 L152.41 381.97 L152.74 382.28 L153.07 382.03 L153.41 381.78 L153.74 382.07 L154.08 382.3 L154.41 381.53 L154.74 381.94 L155.08 380.78 L155.41 380.2 L155.74 378.66 L156.08 376.85 L156.41 374.98 L156.55 374.55 L156.74 374.67 L157.08 377.41 L157.41 379.1 L157.75 380.42 L158.08 381.75 L158.41 381.85 L158.75 382.09 L159.08 382.17 L159.41 382.53 L159.75 382.13 L160.08 382.51 L160.42 382.42 L160.75 382.59 L161.08 382.23 L161.42 382.51 L161.75 382.38 L162.08 382.16 L162.42 382.08 L162.75 382.46 L163.08 381.98 L163.42 382.73 L163.75 382.05 L164.09 381.94 L164.42 382.02 L164.75 382.75 L165.09 382.23 L165.42 382.04 L165.75 381.93 L166.09 381.93 L166.42 382.5 L166.76 382.42 L167.09 382.45 L167.42 382.45 L167.76 381.79 L168.09 382.19 L168.42 381.88 L168.76 382.11 L169.09 381.77 L169.43 381.13 L169.76 379.1 L170.09 377.92 L170.43 376.26 L170.56 376.07 L170.76 375.71 L171.09 377.52 L171.43 379.05 L171.76 379.86 L172.09 380.76 L172.43 380.11 L172.76 378.07 L173.1 374.63 L173.43 370.23 L173.6 369.01 L173.76 369.46 L174.1 373.08 L174.43 376.18 L174.76 375.23 L175.1 372.47 L175.43 370.63 L175.43 370.27 L175.77 373.07 L176.1 376.94 L176.43 379.83 L176.77 380.69 L177.1 381.06 L177.43 381.63 L177.77 380.77 L178.1 380.21 L178.44 379.33 L178.47 378.8 L178.77 379.72 L179.1 380.83 L179.44 381.89 L179.77 381.88 L180.1 382.38 L180.44 382.32 L180.77 382.09 L181.1 382.71 L181.44 382.04 L181.77 382.71 L182.11 382.14 L182.44 382 L182.77 382.18 L183.11 382.68 L183.44 382.87 L183.77 381.98 L184.11 382.39 L184.44 382.36 L184.78 382.59 L185.11 381.97 L185.44 382.15 L185.78 381.83 L186.11 381.93 L186.44 380.82 L186.78 380.5 L187.11 378.61 L187.44 377.17 L187.78 376.86 L187.81 376.67 L188.11 376.85 L188.45 378.65 L188.78 379.5 L189.11 381.17 L189.45 381.75 L189.78 382.21 L190.11 382.28 L190.45 382.16 L190.78 382.29 L191.12 382.34 L191.45 382.83 L191.78 382.13 L192.12 382.88 L192.45 382.12 L192.78 382.3 L193.12 382.36 L193.45 382.94 L193.79 382.58 L194.12 382.47 L194.45 382.92 L194.79 382.33 L195.12 382.52 L195.45 382.57 L195.79 382.75 L196.12 382.72 L196.45 382.58 L196.79 382.26 L197.12 382.18 L197.46 381.93 L197.79 382.42 L198.12 382.06 L198.46 381.79 L198.79 380.63 L199.12 379.66 L199.46 377.86 L199.79 374.66 L200.13 371.1 L200.4 370.27 L200.46 370.71 L200.79 372.26 L201.13 375.52 L201.46 378.34 L201.79 380.46 L202.13 381.56 L202.46 381.44 L202.8 381.73 L203.13 381.98 L203.46 382.17 L203.8 382.44 L204.13 382.18 L204.46 382.38 L204.8 382.3 L205.13 383.04 L205.46 382.84 L205.8 382.3 L206.13 383.09 L206.47 382.32 L206.8 382.59 L207.13 383.13 L207.47 382.96 L207.8 382.9 L208.13 382.62 L208.47 382.39 L208.8 382.76 L209.14 382.21 L209.47 382.18 L209.8 382.1 L210.14 381.39 L210.47 381.2 L210.8 381.13 L210.95 380.98 L211.14 380.89 L211.47 381.47 L211.8 381.82 L212.14 381.91 L212.47 382.55 L212.81 382.49 L213.14 382.85 L213.47 383.03 L213.81 382.62 L214.14 382.75 L214.47 382.91 L214.81 382.61 L215.14 382.42 L215.48 382.85 L215.81 382.97 L216.14 382.85 L216.48 382.74 L216.81 382.83 L217.14 382.61 L217.48 382.48 L217.81 382.19 L218.15 381.86 L218.48 381.84 L218.81 380.87 L219.15 380.41 L219.48 379.67 L219.81 378.25 L220.15 376.7 L220.48 375.22 L220.7 375.11 L220.81 375.2 L221.15 376.18 L221.48 377.33 L221.82 378.89 L222.15 380.15 L222.48 380.14 L222.82 380.87 L223.15 380.93 L223.48 380.15 L223.82 379.4 L224.15 378.53 L224.49 375.97 L224.82 374.56 L225.15 372.79 L225.37 373.06 L225.49 373.32 L225.82 374.15 L226.15 375.68 L226.49 377.99 L226.82 379.5 L227.16 380.77 L227.49 381.33 L227.82 381.92 L228.16 382.39 L228.49 382.3 L228.82 382.33 L229.16 382.92 L229.49 382.33 L229.82 382.82 L230.16 382.6 L230.49 382.98 L230.83 382.44 L231.16 383.24 L231.49 382.7 L231.83 382.45 L232.16 382.66 L232.49 382.79 L232.83 382.45 L233.16 382.82 L233.5 382.83 L233.83 383.08 L234.16 382.77 L234.5 382.69 L234.83 382.64 L235.16 383.09 L235.5 383.23 L235.83 382.79 L236.16 382.39 L236.5 382.73 L236.83 382.09 L237.17 381.62 L237.5 381.28 L237.75 381.79 L237.83 381.83 L238.17 381.86 L238.5 382.03 L238.83 382.41 L239.17 382.35 L239.5 383.17 L239.84 382.72 L240.17 383.04 L240.5 383.24 L240.84 383.26 L241.17 382.97 L241.5 382.82 L241.84 383.06 L242.17 382.69 L242.51 383.34 L242.84 382.91 L243.17 383.36 L243.51 382.84 L243.84 382.94 L244.17 382.84 L244.51 382.99 L244.84 382.78 L245.17 382.62 L245.51 383.26 L245.84 382.87 L246.18 382.83 L246.51 382.88 L246.84 383.04 L247.18 382.99 L247.51 383.18 L247.84 383.19 L248.18 382.92 L248.51 383.42 L248.85 383.34 L249.18 382.6 L249.51 383.27 L249.85 383.3 L250.18 383.13 L250.51 382.44 L250.85 382.88 L251.18 382.42 L251.52 381.49 L251.85 381.06 L252.18 381.59 L252.37 381.27 L252.52 380.94 L252.85 381.11 L253.18 381.57 L253.52 382.04 L253.85 382.82 L254.18 382.62 L254.52 382.57 L254.85 383.31 L255.19 383.26 L255.52 382.72 L255.85 383.39 L256.19 383.15 L256.52 383.32 L256.85 383.23 L257.19 383.44 L257.52 383.35 L257.86 383.4 L258.19 382.83 L258.52 383.28 L258.86 383.13 L259.19 383.33 L259.52 383.05 L259.86 383.45 L260.19 383.16 L260.52 382.9 L260.86 382.87 L261.19 382.78 L261.53 383.09 L261.86 382.69 L262.19 383.05 L262.53 382.75 L262.86 383.05 L263.19 383.03 L263.53 383.04 L263.86 383.28 L264.2 382.41 L264.53 383.01 L264.86 382.44 L265.2 382.18 L265.53 381.85 L265.86 381.63 L266.17 381.06 L266.2 381.1 L266.53 381.79 L266.87 381.4 L267.2 382.32 L267.53 382.65 L267.87 382.33 L268.2 382.99" fill="none" stroke="#5e5ef2" stroke-width="1.55" stroke-linejoin="round"/>
<line x1="24.6" y1="394.0" x2="24.6" y2="391" stroke="#000" stroke-width="1.1"/>
<line x1="44.9" y1="394.0" x2="44.9" y2="392" stroke="#000" stroke-width="1.1"/>
<line x1="65.2" y1="394.0" x2="65.2" y2="391" stroke="#000" stroke-width="1.1"/>
<line x1="85.5" y1="394.0" x2="85.5" y2="392" stroke="#000" stroke-width="1.1"/>
<line x1="105.8" y1="394.0" x2="105.8" y2="391" stroke="#000" stroke-width="1.1"/>
<line x1="126.1" y1="394.0" x2="126.1" y2="392" stroke="#000" stroke-width="1.1"/>
<line x1="146.4" y1="394.0" x2="146.4" y2="391" stroke="#000" stroke-width="1.1"/>
<line x1="166.7" y1="394.0" x2="166.7" y2="392" stroke="#000" stroke-width="1.1"/>
<line x1="187" y1="394.0" x2="187" y2="391" stroke="#000" stroke-width="1.1"/>
<line x1="207.3" y1="394.0" x2="207.3" y2="392" stroke="#000" stroke-width="1.1"/>
<line x1="227.6" y1="394.0" x2="227.6" y2="391" stroke="#000" stroke-width="1.1"/>
<line x1="247.9" y1="394.0" x2="247.9" y2="392" stroke="#000" stroke-width="1.1"/>
<line x1="268.2" y1="394.0" x2="268.2" y2="391" stroke="#000" stroke-width="1.1"/>
<rect x="24.6" y="212.8" width="243.6" height="181.2" fill="none" stroke="#000" stroke-width="1.8"/>
<text x="24.6" y="406.2" font-family='"Liberation Serif", serif' font-size="9.8" font-weight="bold" text-anchor="middle" fill="#000" stroke="#000" stroke-width="0.25" >10</text>
<text x="65.2" y="406.2" font-family='"Liberation Serif", serif' font-size="9.8" font-weight="bold" text-anchor="middle" fill="#000" stroke="#000" stroke-width="0.25" >20</text>
<text x="105.8" y="406.2" font-family='"Liberation Serif", serif' font-size="9.8" font-weight="bold" text-anchor="middle" fill="#000" stroke="#000" stroke-width="0.25" >30</text>
<text x="146.4" y="406.2" font-family='"Liberation Serif", serif' font-size="9.8" font-weight="bold" text-anchor="middle" fill="#000" stroke="#000" stroke-width="0.25" >40</text>
<text x="187" y="406.2" font-family='"Liberation Serif", serif' font-size="9.8" font-weight="bold" text-anchor="middle" fill="#000" stroke="#000" stroke-width="0.25" >50</text>
<text x="227.6" y="406.2" font-family='"Liberation Serif", serif' font-size="9.8" font-weight="bold" text-anchor="middle" fill="#000" stroke="#000" stroke-width="0.25" >60</text>
<text x="268.2" y="406.2" font-family='"Liberation Serif", serif' font-size="9.8" font-weight="bold" text-anchor="middle" fill="#000" stroke="#000" stroke-width="0.25" >70</text>
<text x="146.5" y="416.4" font-family='"Liberation Serif", serif' font-size="11" font-weight="bold" text-anchor="middle" fill="#000" stroke="#000" stroke-width="0.25" >2 Theta</text>
<text transform="translate(17.4 299.7) rotate(-90)" font-family='"Liberation Serif", serif' font-size="11.2" font-weight="bold" text-anchor="middle" fill="#000" stroke="#000" stroke-width="0.25">Intensity (a.u.)</text>
<text transform="translate(30.6 227.2) scale(0.86 1)" font-family='"Liberation Sans", sans-serif' font-size="12.2" font-weight="bold" fill="#000" stroke="#000" stroke-width="0.25">(C)</text>
<text x="214.2" y="255.2" font-family='"Liberation Serif", serif' font-size="9.2" font-weight="bold" text-anchor="middle" fill="#f87070" stroke="#f87070" stroke-width="0.25" >After degradation</text>
<text x="218.3" y="350.9" font-family='"Liberation Serif", serif' font-size="9.2" font-weight="bold" text-anchor="middle" fill="#7070f2" stroke="#7070f2" stroke-width="0.25" >Before degradation</text>
<defs><clipPath id="cD"><rect x="295.8" y="212.2" width="239.59999999999997" height="181.8"/></clipPath></defs>
<path clip-path="url(#cD)" d="M295.8 261.1 C296.67 260.95 299.15 260.5 301 260.2 C302.85 259.9 304.93 259.68 306.9 259.3 C308.87 258.92 311.05 258.58 312.8 257.9 C314.55 257.22 315.95 256.43 317.4 255.2 C318.85 253.97 320.37 252.17 321.5 250.5 C322.63 248.83 323.47 246.67 324.2 245.2 C324.93 243.73 325.43 242.18 325.9 241.7 C326.37 241.22 326.55 242.4 327 242.3 C327.45 242.2 328 241.88 328.6 241.1 C329.2 240.32 330.08 238.18 330.6 237.6 C331.12 237.02 331.25 237.27 331.7 237.6 C332.15 237.93 332.85 239.2 333.3 239.6 C333.75 240 334.02 240.13 334.4 240 C334.78 239.87 335.2 238.52 335.6 238.8 C336 239.08 336.22 239.75 336.8 241.7 C337.38 243.65 338.23 247.37 339.1 250.5 C339.97 253.63 341.12 257.97 342 260.5 C342.88 263.03 343.52 264.38 344.4 265.7 C345.28 267.02 346.62 267.72 347.3 268.4 C347.98 269.08 348 269.07 348.5 269.8 C349 270.53 349.67 272.05 350.3 272.8 C350.93 273.55 351.57 273.92 352.3 274.3 C353.03 274.68 353.62 275.1 354.7 275.1 C355.78 275.1 357.43 275.03 358.8 274.3 C360.17 273.57 361.23 271.88 362.9 270.7 C364.57 269.52 366.45 268.37 368.8 267.2 C371.15 266.03 373.68 264.97 377 263.7 C380.32 262.43 385 260.67 388.7 259.6 C392.4 258.53 396.47 258.03 399.2 257.3 C401.93 256.57 402.97 255.88 405.1 255.2 C407.23 254.52 409.28 254.03 412 253.2 C414.72 252.37 419.15 251.05 421.4 250.2 C423.65 249.35 423.73 248.88 425.5 248.1 C427.27 247.32 429.55 246.22 432 245.5 C434.45 244.78 438.15 243.98 440.2 243.8 C442.25 243.62 443.13 243.82 444.3 244.4 C445.47 244.98 446.23 245.55 447.2 247.3 C448.17 249.05 449.32 252.27 450.1 254.9 C450.88 257.53 451.42 260.02 451.9 263.1 C452.38 266.18 452.53 270.45 453 273.4 C453.47 276.35 454.15 278.42 454.7 280.8 C455.25 283.18 455.82 286.15 456.3 287.7 C456.78 289.25 457.25 289.75 457.6 290.1 C457.95 290.45 458.17 290.65 458.4 289.8 C458.63 288.95 458.73 285.97 459 285 C459.27 284.03 459.65 283.73 460 284 C460.35 284.27 460.75 285.47 461.1 286.6 C461.45 287.73 461.75 290.27 462.1 290.8 C462.45 291.33 462.62 290.97 463.2 289.8 C463.78 288.63 464.98 284.42 465.6 283.8 C466.22 283.18 466.42 285.1 466.9 286.1 C467.38 287.1 468.07 288.48 468.5 289.8 C468.93 291.12 469.1 293.22 469.5 294 C469.9 294.78 470.45 293.88 470.9 294.5 C471.35 295.12 471.85 296.95 472.2 297.7 C472.55 298.45 472.57 300.58 473 299 C473.43 297.42 474.2 291.72 474.8 288.2 C475.4 284.68 476.13 278.95 476.6 277.9 C477.07 276.85 477.28 279.13 477.6 281.9 C477.92 284.67 478.22 292.3 478.5 294.5 C478.78 296.7 478.95 296.42 479.3 295.1 C479.65 293.78 480.22 287.67 480.6 286.6 C480.98 285.53 481.22 287.55 481.6 288.7 C481.98 289.85 482.45 291.47 482.9 293.5 C483.35 295.53 483.95 299.77 484.3 300.9 C484.65 302.03 484.65 301.98 485 300.3 C485.35 298.62 486 292.73 486.4 290.8 C486.8 288.87 486.93 290.27 487.4 288.7 C487.87 287.13 488.48 283.33 489.2 281.4 C489.92 279.47 491.03 278.68 491.7 277.1 C492.37 275.52 492.68 273.48 493.2 271.9 C493.72 270.32 494.18 268.67 494.8 267.6 C495.42 266.53 496.13 266.58 496.9 265.5 C497.67 264.42 498.6 261.93 499.4 261.1 C500.2 260.27 500.53 261.18 501.7 260.5 C502.87 259.82 505.38 257.4 506.4 257 C507.42 256.6 507.32 257.03 507.8 258.1 C508.28 259.17 508.47 261.53 509.3 263.4 C510.13 265.27 512.12 267.93 512.8 269.3 C513.48 270.67 513.17 269.07 513.4 271.6 C513.63 274.13 513.9 284.6 514.2 284.5 C514.5 284.4 514.4 272.22 515.2 271 C516 269.78 517.83 276.9 519 277.2 C520.17 277.5 521.18 275.3 522.2 272.8 C523.22 270.3 524.22 265.62 525.1 262.2 C525.98 258.78 526.82 254.15 527.5 252.3 C528.18 250.45 528.62 251.3 529.2 251.1 C529.78 250.9 530.02 251.73 531 251.1 C531.98 250.47 534.42 247.93 535.1 247.3" fill="none" stroke="#f85c5c" stroke-width="2.0" stroke-linejoin="round" stroke-linecap="round"/>
<path clip-path="url(#cD)" d="M295.8 322.9 C296.67 322.83 298.95 322.6 301 322.5 C303.05 322.4 305.85 322.48 308.1 322.3 C310.35 322.12 312.85 321.75 314.5 321.4 C316.15 321.05 316.73 320.83 318 320.2 C319.27 319.57 320.83 318.53 322.1 317.6 C323.37 316.67 324.72 315.03 325.6 314.6 C326.48 314.17 326.8 315.13 327.4 315 C328 314.87 328.55 314.18 329.2 313.8 C329.85 313.42 330.62 312.57 331.3 312.7 C331.98 312.83 332.63 314.18 333.3 314.6 C333.97 315.02 334.72 314.8 335.3 315.2 C335.88 315.6 336.17 315.82 336.8 317 C337.43 318.18 338.23 320.45 339.1 322.3 C339.97 324.15 341.12 326.63 342 328.1 C342.88 329.57 343.42 330.02 344.4 331.1 C345.38 332.18 346.88 333.57 347.9 334.6 C348.92 335.63 349.78 336.63 350.5 337.3 C351.22 337.97 351.47 338.28 352.2 338.6 C352.93 338.92 354 339.28 354.9 339.2 C355.8 339.12 355.87 338.88 357.6 338.1 C359.33 337.32 362.57 335.55 365.3 334.5 C368.03 333.45 370.55 332.62 374 331.8 C377.45 330.98 382.18 330.27 386 329.6 C389.82 328.93 393.68 328.22 396.9 327.8 C400.12 327.38 403.27 327.1 405.3 327.1 C407.33 327.1 407.98 327.92 409.1 327.8 C410.22 327.68 410.73 326.73 412 326.4 C413.27 326.07 415.13 325.8 416.7 325.8 C418.27 325.8 419.83 326.6 421.4 326.4 C422.97 326.2 423.95 325.05 426.1 324.6 C428.25 324.15 431.77 323.78 434.3 323.7 C436.83 323.62 439.35 323.8 441.3 324.1 C443.25 324.4 444.63 324.63 446 325.5 C447.37 326.37 448.52 327.58 449.5 329.3 C450.48 331.02 451.22 333.35 451.9 335.8 C452.58 338.25 453.05 341.72 453.6 344 C454.15 346.28 454.62 348.18 455.2 349.5 C455.78 350.82 456.25 352.08 457.1 351.9 C457.95 351.72 459.42 348.58 460.3 348.4 C461.18 348.22 461.57 350.97 462.4 350.8 C463.23 350.63 464.42 347.3 465.3 347.4 C466.18 347.5 466.95 350.12 467.7 351.4 C468.45 352.68 469.02 354.13 469.8 355.1 C470.58 356.07 471.7 356.58 472.4 357.2 C473.1 357.82 473.6 357.4 474 358.8 C474.4 360.2 474.53 366.48 474.8 365.6 C475.07 364.72 475.3 356.13 475.6 353.5 C475.9 350.87 476.25 349.98 476.6 349.8 C476.95 349.62 477.28 351.35 477.7 352.4 C478.12 353.45 478.58 355.95 479.1 356.1 C479.62 356.25 480.28 353.47 480.8 353.3 C481.32 353.13 481.62 354.15 482.2 355.1 C482.78 356.05 483.57 359.1 484.3 359 C485.03 358.9 485.68 356.38 486.6 354.5 C487.52 352.62 488.92 349.37 489.8 347.7 C490.68 346.03 491.1 345.73 491.9 344.5 C492.7 343.27 493.5 341.3 494.6 340.3 C495.7 339.3 497.38 338.42 498.5 338.5 C499.62 338.58 500.03 340.33 501.3 340.8 C502.57 341.27 504.95 340.77 506.1 341.3 C507.25 341.83 507.42 342.5 508.2 344 C508.98 345.5 510.02 348.72 510.8 350.3 C511.58 351.88 512.4 352.8 512.9 353.5 C513.4 354.2 513.57 353.6 513.8 354.5 C514.03 355.4 514.07 358.82 514.3 358.9 C514.53 358.98 514.82 355.42 515.2 355 C515.58 354.58 515.93 355.33 516.6 356.4 C517.27 357.47 518.32 361.18 519.2 361.4 C520.08 361.62 521.02 359.55 521.9 357.7 C522.78 355.85 523.63 353.03 524.5 350.3 C525.37 347.57 526.32 343.5 527.1 341.3 C527.88 339.1 528.48 337.97 529.2 337.1 C529.92 336.23 530.43 336.4 531.4 336.1 C532.37 335.8 534.4 335.43 535 335.3" fill="none" stroke="#5c5cf0" stroke-width="2.0" stroke-linejoin="round" stroke-linecap="round"/>
<line x1="295.8" y1="394.0" x2="295.8" y2="391" stroke="#000" stroke-width="1.1"/>
<line x1="312.91" y1="394.0" x2="312.91" y2="392" stroke="#000" stroke-width="1.1"/>
<line x1="330.03" y1="394.0" x2="330.03" y2="391" stroke="#000" stroke-width="1.1"/>
<line x1="347.14" y1="394.0" x2="347.14" y2="392" stroke="#000" stroke-width="1.1"/>
<line x1="364.26" y1="394.0" x2="364.26" y2="391" stroke="#000" stroke-width="1.1"/>
<line x1="381.37" y1="394.0" x2="381.37" y2="392" stroke="#000" stroke-width="1.1"/>
<line x1="398.49" y1="394.0" x2="398.49" y2="391" stroke="#000" stroke-width="1.1"/>
<line x1="415.6" y1="394.0" x2="415.6" y2="392" stroke="#000" stroke-width="1.1"/>
<line x1="432.71" y1="394.0" x2="432.71" y2="391" stroke="#000" stroke-width="1.1"/>
<line x1="449.83" y1="394.0" x2="449.83" y2="392" stroke="#000" stroke-width="1.1"/>
<line x1="466.94" y1="394.0" x2="466.94" y2="391" stroke="#000" stroke-width="1.1"/>
<line x1="484.06" y1="394.0" x2="484.06" y2="392" stroke="#000" stroke-width="1.1"/>
<line x1="501.17" y1="394.0" x2="501.17" y2="391" stroke="#000" stroke-width="1.1"/>
<line x1="518.29" y1="394.0" x2="518.29" y2="392" stroke="#000" stroke-width="1.1"/>
<line x1="535.4" y1="394.0" x2="535.4" y2="391" stroke="#000" stroke-width="1.1"/>
<rect x="295.8" y="212.2" width="239.6" height="181.8" fill="none" stroke="#000" stroke-width="1.8"/>
<text x="295.8" y="406.8" font-family='"Liberation Serif", serif' font-size="9.9" font-weight="bold" text-anchor="middle" fill="#000" stroke="#000" stroke-width="0.25" >4000</text>
<text x="330.03" y="406.8" font-family='"Liberation Serif", serif' font-size="9.9" font-weight="bold" text-anchor="middle" fill="#000" stroke="#000" stroke-width="0.25" >3500</text>
<text x="364.26" y="406.8" font-family='"Liberation Serif", serif' font-size="9.9" font-weight="bold" text-anchor="middle" fill="#000" stroke="#000" stroke-width="0.25" >3000</text>
<text x="398.49" y="406.8" font-family='"Liberation Serif", serif' font-size="9.9" font-weight="bold" text-anchor="middle" fill="#000" stroke="#000" stroke-width="0.25" >2500</text>
<text x="432.71" y="406.8" font-family='"Liberation Serif", serif' font-size="9.9" font-weight="bold" text-anchor="middle" fill="#000" stroke="#000" stroke-width="0.25" >2000</text>
<text x="466.94" y="406.8" font-family='"Liberation Serif", serif' font-size="9.9" font-weight="bold" text-anchor="middle" fill="#000" stroke="#000" stroke-width="0.25" >1500</text>
<text x="501.17" y="406.8" font-family='"Liberation Serif", serif' font-size="9.9" font-weight="bold" text-anchor="middle" fill="#000" stroke="#000" stroke-width="0.25" >1000</text>
<text x="535.4" y="406.8" font-family='"Liberation Serif", serif' font-size="9.9" font-weight="bold" text-anchor="middle" fill="#000" stroke="#000" stroke-width="0.25" >500</text>
<text x="368.3" y="420.9" font-family='"Liberation Serif", serif' font-size="11" font-weight="bold" fill="#000" stroke="#000" stroke-width="0.25">Wavenumber (cm<tspan font-size="9.6" dy="-4.4">-1</tspan><tspan dy="4.4">)</tspan></text>
<text transform="translate(287.6 303) rotate(-90)" font-family='"Liberation Serif", serif' font-size="11.3" font-weight="bold" text-anchor="middle" fill="#000" stroke="#000" stroke-width="0.25">Transmittance (%)</text>
<text transform="translate(300.5 225.6) scale(0.86 1)" font-family='"Liberation Sans", sans-serif' font-size="12.2" font-weight="bold" fill="#000" stroke="#000" stroke-width="0.25">(D)</text>
<text x="342.3" y="288.9" font-family='"Liberation Serif", serif' font-size="9.2" font-weight="bold" text-anchor="middle" fill="#f87070" stroke="#f87070" stroke-width="0.25" >After degradation</text>
<text x="347.8" y="359" font-family='"Liberation Serif", serif' font-size="9.2" font-weight="bold" text-anchor="middle" fill="#7070f2" stroke="#7070f2" stroke-width="0.25" >Before degradation</text>
</svg></body></html>
